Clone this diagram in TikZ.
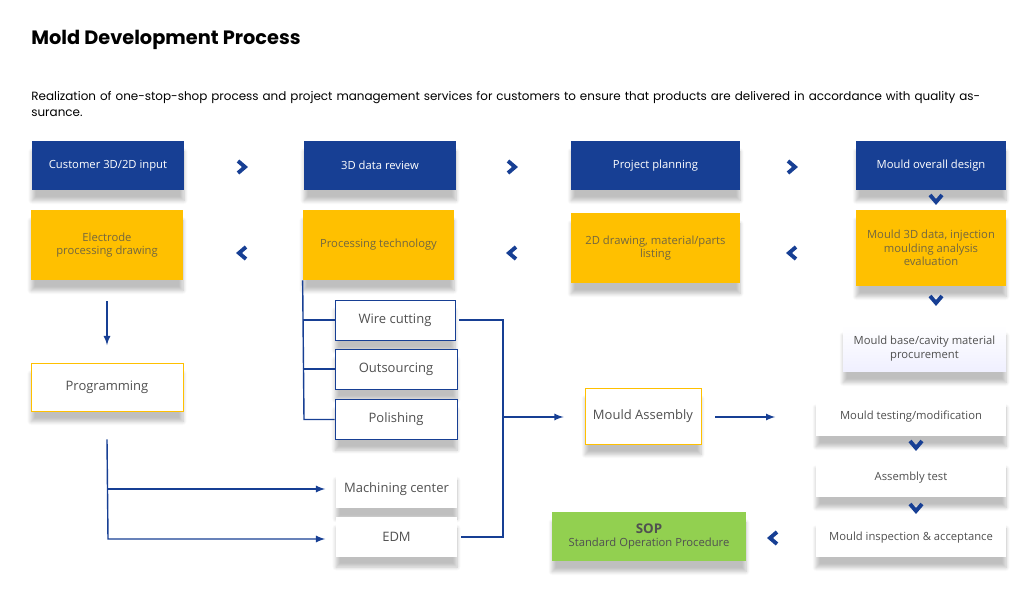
\documentclass[tikz,border=0pt]{standalone}
\usepackage{fontspec}
\setmainfont{Open Sans}
\newfontfamily\titlefont{Poppins}
\usetikzlibrary{shadows.blur}

\definecolor{navy}{HTML}{173F94}
\definecolor{gold}{HTML}{FFC000}
\definecolor{leaf}{HTML}{92D050}
\definecolor{txt}{HTML}{505050}

\tikzset{
  box/.style={minimum width=#1*0.02cm, inner sep=1pt, align=center,
    font=\fontsize{6.4}{7.6}\selectfont, text=txt,
    blur shadow={shadow xshift=0pt, shadow yshift=-6pt, shadow blur steps=8, shadow opacity=25}},
  blue/.style={box=#1, fill=navy, text=white, minimum height=49*0.02cm},
  yellow/.style={box=#1, fill=gold, text=txt!80!gold, minimum height=70*0.02cm},
  plain/.style={box=#1, fill=white, draw=navy, minimum height=40*0.02cm},
  framed/.style={box=#1, fill=white, draw=gold, minimum height=48*0.02cm},
  blank/.style={box=#1, fill=white, minimum height=39*0.02cm},
  link/.style={navy, line width=0.8pt},
  arr/.style={link, -latex},
  chev/.style={navy, line width=2.2pt},
}

\begin{document}
\begin{tikzpicture}[x=0.02cm, y=-0.02cm]
    \useasboundingbox (0,0) rectangle (1035,594);

    \node[anchor=west, inner sep=0pt, font=\titlefont\bfseries\fontsize{11}{13}\selectfont] (title) at (31,40) {Mold Development Process};
    \node[anchor=north west, inner sep=0pt, align=left, text width=19cm, font=\titlefont\fontsize{6.8}{9}\selectfont] (sub) at (31,91)
        {\hyphenpenalty=10000 Realization of one-stop-shop process and project management services for customers to ensure that products are delivered in accordance with quality assurance.};

    % top row
    \node[blue=152] (input) at (108,165.5) {Customer 3D/2D input};
    \node[blue=152] (review) at (380,165.5) {3D data review};
    \node[blue=169] (plan) at (655.5,165.5) {Project planning};
    \node[blue=150] (design) at (931,165.5) {Mould overall design};

    % second row
    \node[yellow=152] (electrode) at (107,245) {Electrode\\processing drawing};
    \node[yellow=151] (tech) at (378.5,245) {Processing technology};
    \node[yellow=169] (drawing) at (655.5,248) {2D drawing, material/parts\\listing};
    \node[yellow=150, minimum height=76*0.02cm] (data) at (931,248) {Mould 3D data, injection\\moulding analysis\\evaluation};

    % processes
    \node[plain=120, font=\fontsize{7.4}{9}\selectfont] (wire) at (395,320) {Wire cutting};
    \node[plain=122, font=\fontsize{7.4}{9}\selectfont] (outsrc) at (396,369) {Outsourcing};
    \node[plain=122, font=\fontsize{7.4}{9}\selectfont] (polish) at (396,419.5) {Polishing};
    \node[framed=152, font=\fontsize{7.4}{9}\selectfont] (prog) at (107,387) {Programming};
    \node[blank=121, font=\fontsize{7.4}{9}\selectfont] (machine) at (396.5,489) {Machining center};
    \node[blank=121, font=\fontsize{7.4}{9}\selectfont] (edm) at (396.5,537) {EDM};
    \node[framed=116, minimum height=56*0.02cm, font=\fontsize{7.4}{9}\selectfont] (assembly) at (643,416) {Mould Assembly};

    % right column
    \node[box=163, minimum height=47*0.02cm, top color=white, bottom color=blue!6] (base) at (924.5,348.5) {Mould base/cavity material\\procurement};
    \node[blank=190] (testing) at (911,416.5) {Mould testing/modification};
    \node[blank=190] (asmtest) at (911,477.5) {Assembly test};
    \node[blank=190] (inspect) at (911,537.5) {Mould inspection \& acceptance};
    \node[box=194, fill=leaf, text=txt, minimum height=49*0.02cm] (sop) at (649,536.5) {{\bfseries\fontsize{7.6}{9}\selectfont SOP}\\Standard Operation Procedure};

    % chevrons
    \foreach \x in {242,512,792}
        \draw[chev] (\x-4,161) -- (\x+3,167) -- (\x-4,173);
    \foreach \x in {242,512,792}
        \draw[chev] (\x+4,247) -- (\x-3,253) -- (\x+4,259);
    \foreach \x/\y in {936/199,936/300,916/445,916/508}
        \draw[chev] (\x-6,\y-4) -- (\x,\y+3) -- (\x+6,\y-4);
    \draw[chev] (777,532) -- (770,538) -- (777,544);

    % connectors
    \coordinate (trunk) at (304,419.5);
    \draw[link] (tech.south west) -- (trunk) -- (polish.west);
    \draw[link] (tech.south west |- wire.west) -- (wire.west);
    \draw[link] (tech.south west |- outsrc.west) -- (outsrc.west);
    \coordinate (bus) at (503,320);
    \draw[link] ([xshift=2pt]wire.east) -- (bus) -- (bus |- edm.east) -- ([xshift=2pt]edm.east);
    \coordinate (mid) at (503,417);
    \draw[arr] (mid) -- ([xshift=-12pt]assembly.west |- mid);
    \draw[arr] ([xshift=8pt]assembly.east |- mid) -- ([xshift=-23pt]testing.west |- mid);
    \draw[arr] ([yshift=-12pt]electrode.south) -- ([yshift=10pt]prog.north);
    \coordinate (drop) at (108,539);
    \draw[arr] ([yshift=-16pt]prog.south) -- (drop) -- ([xshift=-6pt]edm.west |- drop);
    \draw[arr] (prog.south |- machine.west) -- ([xshift=-6pt]machine.west);
\end{tikzpicture}
\end{document}
